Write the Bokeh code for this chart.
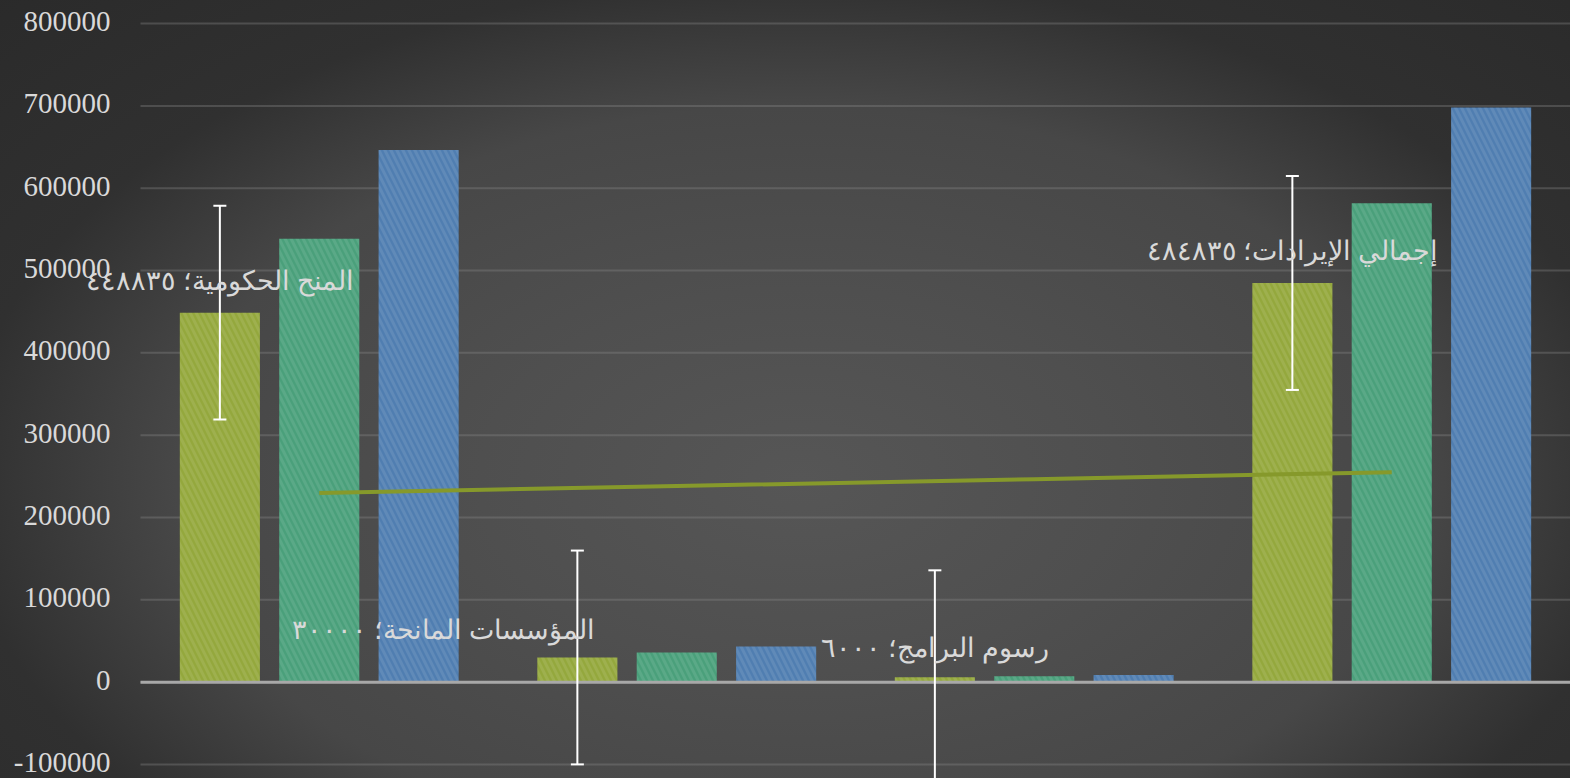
import numpy as np
from bokeh.plotting import figure
from bokeh.models import ColumnDataSource, Range1d, LabelSet
from bokeh.embed import file_html
from bokeh.resources import INLINE

# ---- data ----
categories = ["المنح الحكومية", "المؤسسات المانحة", "رسوم البرامج", "إجمالي الإيرادات"]
series_a = [448835, 30000, 6000, 484835]
series_b = [538602, 36000, 7200, 581802]
series_c = [646322, 43200, 8640, 698162]
error_a = [129865, 129865, 129865, 129865]
y_ticks = [-100000, 0, 100000, 200000, 300000, 400000, 500000, 600000, 700000, 800000]
y_tick_labels = ["-100000", "0", "100000", "200000", "300000", "400000", "500000", "600000", "700000", "800000"]

# ---- layout / style constants ----
W, H = 1570, 778
PLOT_LEFT = 140          # px where the plot area starts (left of it: tick labels)
OFF = 0.278
BAR_W = 0.224
label_dx = [0, -134, 0, 0]
label_dy = [32, 27, 29, 32]
colors = ["#94a83d", "#4aa07b", "#507eb1"]

n = len(categories)
cat_x = np.arange(n) + 0.5
x_start = -PLOT_LEFT / (W - PLOT_LEFT) * n

AR_DIGITS = str.maketrans("0123456789", "٠١٢٣٤٥٦٧٨٩")
labels = [f"{c}؛ {str(v).translate(AR_DIGITS)}" for c, v in zip(categories, series_a)]

# linear trendline on the first series
xi = np.arange(1, n + 1)
slope, intercept = np.polyfit(xi, series_a, 1)
trend = list(slope * xi + intercept)

src = ColumnDataSource(dict(
    cat=categories, x=list(cat_x),
    xa=list(cat_x - OFF), xb=list(cat_x), xc=list(cat_x + OFF),
    a=series_a, b=series_b, c=series_c,
    up=[v + e for v, e in zip(series_a, error_a)],
    lo=[v - e for v, e in zip(series_a, error_a)],
    lab=labels, dx=label_dx, dy=label_dy, trend=trend,
))
tick_src = ColumnDataSource(dict(y=y_ticks, t=y_tick_labels,
                                 x0=[0] * len(y_ticks), x1=[n] * len(y_ticks)))

p = figure(
    width=W, height=H,
    x_range=Range1d(x_start, n),
    y_range=Range1d(-117000, 828000),
    output_backend="svg", toolbar_location=None,
    min_border_left=0, min_border_right=0, min_border_top=0, min_border_bottom=0,
)
p.background_fill_color = None
p.border_fill_color = None
p.outline_line_color = None
p.styles = {
    "background": "radial-gradient(ellipse 800px 480px at 800px 480px, #565656 0%, #4f4f4f 40%, #474747 78%, #303030 105%, #2a2a2a 145%)"
}

p.xaxis.visible = False
p.yaxis.visible = False
p.xgrid.visible = False
p.ygrid.visible = False

# horizontal gridlines at the y ticks, over the plot area only
p.segment(x0="x0", y0="y", x1="x1", y1="y", source=tick_src,
          line_color="#8a8a8a", line_alpha=0.35, line_width=2)

# y tick labels, right-aligned 30px left of the plot area
p.add_layout(LabelSet(x="x0", y="y", text="t", source=tick_src, x_offset=-30, y_offset=2,
                      text_align="right", text_baseline="middle",
                      text_font="'Liberation Serif'", text_font_size="29px",
                      text_color="#d9d9d9"))

for field, xf, col in zip(["a", "b", "c"], ["xa", "xb", "xc"], colors):
    p.vbar(x=xf, top=field, width=BAR_W, source=src,
           fill_color=col, line_color=None,
           hatch_pattern="\\", hatch_color="white", hatch_alpha=0.09,
           hatch_scale=12, hatch_weight=3)

# zero line
p.segment(x0=[0], y0=[0], x1=[n], y1=[0], line_color="#a8a8a8", line_width=3)

# trendline
p.line(x="x", y="trend", source=src, line_color="#86992b", line_width=4)

# error bars
p.segment(x0="xa", y0="lo", x1="xa", y1="up", source=src, line_color="white", line_width=2)
p.scatter(x="xa", y="up", source=src, marker="dash", size=13, line_color="white", line_width=2)
p.scatter(x="xa", y="lo", source=src, marker="dash", size=13, line_color="white", line_width=2)

# data labels
p.add_layout(LabelSet(x="xa", y="a", text="lab", source=src,
                      x_offset="dx", y_offset="dy",
                      text_align="center", text_baseline="middle",
                      text_font="'DejaVu Sans'", text_font_size="27px", text_color="#d9d9d9"))

open("out.html", "w").write(file_html(p, INLINE))
